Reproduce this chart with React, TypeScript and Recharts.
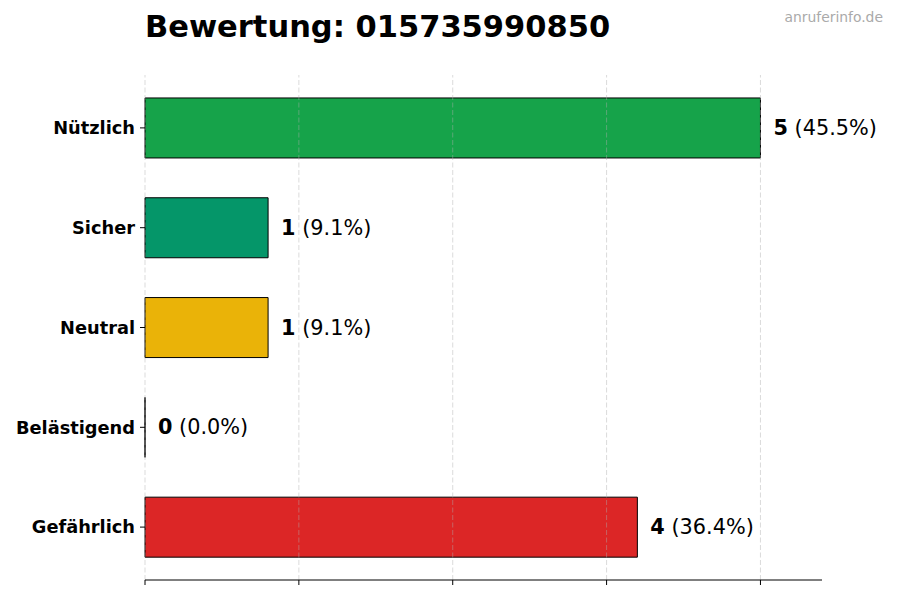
import { BarChart, Bar, XAxis, YAxis, ReferenceLine, Cell, LabelList } from "recharts"

const categories = ["Nützlich", "Sicher", "Neutral", "Belästigend", "Gefährlich"]
const counts = [5, 1, 1, 0, 4]
const colors = ["#16a34a", "#059669", "#eab308", "#f97316", "#dc2626"]
const xTicks = [0, 1.25, 2.5, 3.75, 5]

const total = counts.reduce((a, b) => a + b, 0)
const data = categories.map((name, i) => ({
  name,
  value: counts[i],
  pct: ((counts[i] / total) * 100).toFixed(1),
}))

const FONT = "DejaVu Sans, sans-serif"

function BarShape(props: any) {
  const { x, y, width, height, fill } = props
  return (
    <path
      d={`M${x},${y}h${width}v${height}h${-width}Z`}
      fill={fill}
      stroke="#000"
      strokeWidth={1}
    />
  )
}

function ValueLabel(props: any) {
  const { x, y, width, height, index } = props
  const d = data[index]
  return (
    <text
      x={x + width + 13}
      y={y + height / 2}
      dominantBaseline="central"
      fontFamily={FONT}
      fontSize={20.8}
      fill="#000"
    >
      <tspan fontWeight="bold">{d.value}</tspan>
      <tspan> ({d.pct}%)</tspan>
    </text>
  )
}

export default function App() {
  return (
    <div style={{ position: "relative", width: 900, height: 600, background: "#fff" }}>
      <style>{`body{margin:0}`}</style>
      <div
        style={{
          position: "absolute",
          left: 145,
          top: 9,
          fontFamily: FONT,
          fontWeight: "bold",
          fontSize: 30.5,
          color: "#000",
          whiteSpace: "nowrap",
        }}
      >
        Bewertung: 015735990850
      </div>
      <div
        style={{
          position: "absolute",
          right: 17,
          top: 9,
          fontFamily: FONT,
          fontSize: 13.9,
          color: "#aaaaaa",
        }}
      >
        anruferinfo.de
      </div>
      <BarChart
        width={900}
        height={600}
        data={data}
        layout="vertical"
        margin={{ top: 75, right: 78, bottom: 0, left: 0 }}
        barCategoryGap="20%"
      >
        <XAxis
          type="number"
          domain={[0, 5.5]}
          ticks={xTicks}
          height={20}
          tickFormatter={() => ""}
          axisLine={{ stroke: "#000" }}
          tickLine={{ stroke: "#000" }}
          tickSize={5}
        />
        <YAxis
          type="category"
          dataKey="name"
          width={145}
          axisLine={false}
          tickLine={{ stroke: "#000" }}
          tickSize={5}
          tickMargin={5}
          padding={{ top: 3, bottom: 3 }}
          tick={{ fontFamily: FONT, fontWeight: "bold", fontSize: 17.8, fill: "#000" }}
        />
        {/* faint dashed grid, drawn over the bars like the original */}
        {xTicks.map((t) => (
          <ReferenceLine
            key={t}
            x={t}
            stroke="#b0b0b0"
            strokeOpacity={0.5}
            strokeWidth={0.9}
            strokeDasharray="5 2.5"
          />
        ))}
        <Bar dataKey="value" shape={BarShape} isAnimationActive={false}>
          {data.map((_, i) => (
            <Cell key={i} fill={colors[i]} />
          ))}
          <LabelList dataKey="value" content={ValueLabel} />
        </Bar>
      </BarChart>
    </div>
  )
}
